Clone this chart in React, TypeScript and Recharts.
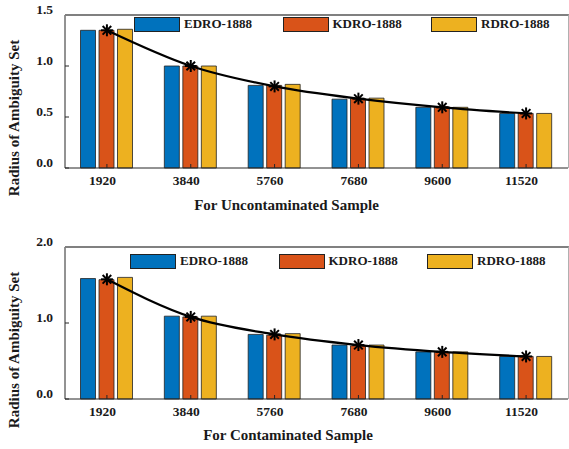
import React from 'react';
import { Bar, ComposedChart, Legend, Line, XAxis, YAxis } from 'recharts';

const samples = ['1920', '3840', '5760', '7680', '9600', '11520'];
const seriesNames = ['EDRO-1888', 'KDRO-1888', 'RDRO-1888'];
const seriesColors = ['#0072BD', '#D95319', '#EDB120'];

// uncontaminated sample
const edroClean = [1.35, 1.0, 0.81, 0.675, 0.595, 0.535];
const kdroClean = [1.35, 1.0, 0.81, 0.68, 0.6, 0.535];
const rdroClean = [1.36, 1.0, 0.82, 0.685, 0.595, 0.535];
const trendClean = [1.35, 1.0, 0.8, 0.68, 0.595, 0.535];
const cleanTicks = [0, 0.5, 1.0, 1.5];

// contaminated sample
const edroDirty = [1.585, 1.09, 0.85, 0.71, 0.62, 0.56];
const kdroDirty = [1.57, 1.08, 0.84, 0.7, 0.615, 0.56];
const rdroDirty = [1.6, 1.09, 0.86, 0.71, 0.62, 0.56];
const trendDirty = [1.575, 1.08, 0.85, 0.71, 0.62, 0.56];
const dirtyTicks = [0, 1.0, 2.0];

const FONT = "'Liberation Serif', 'Times New Roman', serif";
const INK = '#1a1a1a';

const buildRows = (e: number[], k: number[], r: number[], t: number[]) =>
  samples.map((n, i) => ({ n, e: e[i], k: k[i], r: r[i], t: t[i] }));

const Star = (props: any) => {
  const { cx, cy } = props;
  if (cx == null || cy == null) return null;
  const s = 6;
  const d = 4.3;
  return (
    <g stroke="#000" strokeWidth={2}>
      <line x1={cx - s} y1={cy} x2={cx + s} y2={cy} />
      <line x1={cx} y1={cy - s} x2={cx} y2={cy + s} />
      <line x1={cx - d} y1={cy - d} x2={cx + d} y2={cy + d} />
      <line x1={cx - d} y1={cy + d} x2={cx + d} y2={cy - d} />
    </g>
  );
};

const BottomTick = ({ x, y, payload }: any) => (
  <g>
    <line x1={x} x2={x} y1={y} y2={y - 4} stroke="#262626" />
    <text x={x - 4.5} y={y + 17} textAnchor="middle" fontFamily={FONT} fontWeight="bold" fontSize={13.5} fill={INK}>
      {payload.value}
    </text>
  </g>
);

const LeftTick = ({ x, y, payload }: any) => (
  <g>
    <line x1={x} x2={x + 4} y1={y} y2={y} stroke="#262626" />
    <text x={x - 12} y={y - 1} textAnchor="end" fontFamily={FONT} fontWeight="bold" fontSize={13.5} fill={INK}>
      {Number(payload.value).toFixed(1)}
    </text>
  </g>
);

const renderLegend = ({ payload }: any) => (
  <div style={{ display: 'flex', fontFamily: FONT, fontWeight: 'bold', fontSize: 13, color: INK }}>
    {(payload || [])
      .filter((p: any) => seriesNames.includes(p.value))
      .map((p: any) => (
        <div key={p.value} style={{ width: 148.5, flexShrink: 0, display: 'flex', alignItems: 'flex-start' }}>
          <span style={{ width: 44, height: 13, background: p.color, border: '1px solid #222', display: 'inline-block', flexShrink: 0 }} />
          <span style={{ marginLeft: 4, lineHeight: '13px' }}>{p.value}</span>
        </div>
      ))}
  </div>
);

type PanelProps = {
  rows: any[];
  ticks: number[];
  height: number;
  top: number;
  axisHeight: number;
  legendTop: number;
  legendLeft: number;
};

function Panel({ rows, ticks, height, top, axisHeight, legendTop, legendLeft }: PanelProps) {
  const lo = ticks[0];
  const hi = ticks[ticks.length - 1];
  return (
    <div style={{ position: 'relative', width: 569, height }}>
      <ComposedChart
        width={569}
        height={height}
        data={rows}
        margin={{ top, right: 1, bottom: 0, left: 0 }}
        barCategoryGap="18.5%"
        barGap={3.5}
      >
        <XAxis dataKey="n" height={axisHeight} tickSize={0} tickMargin={0} tick={<BottomTick />} stroke="#262626" interval={0} />
        <YAxis width={65} domain={[lo, hi]} ticks={ticks} tickSize={0} tickMargin={0} tick={<LeftTick />} stroke="#262626" type="number" />
        <Legend
          content={renderLegend}
          layout="horizontal"
          verticalAlign="middle"
          align="center"
          wrapperStyle={{ position: 'absolute', top: legendTop, left: legendLeft, width: 430, height: 15 }}
        />
        <Bar dataKey="e" name={seriesNames[0]} fill={seriesColors[0]} stroke="#222" strokeWidth={0.8} isAnimationActive={false} />
        <Bar dataKey="k" name={seriesNames[1]} fill={seriesColors[1]} stroke="#222" strokeWidth={0.8} isAnimationActive={false} />
        <Bar dataKey="r" name={seriesNames[2]} fill={seriesColors[2]} stroke="#222" strokeWidth={0.8} isAnimationActive={false} />
        <Line
          dataKey="t"
          type="monotone"
          stroke="#000"
          strokeWidth={2.2}
          dot={<Star />}
          activeDot={false}
          legendType="none"
          isAnimationActive={false}
        />
      </ComposedChart>
      {/* upper and right edges of the axes box */}
      <div
        style={{
          position: 'absolute',
          left: 65,
          top: top - 1,
          width: 504,
          height: height - top - axisHeight + 1,
          borderTop: '2px solid #808080',
          borderRight: '1px solid #b0b0b0',
          boxSizing: 'border-box',
          pointerEvents: 'none',
        }}
      />
    </div>
  );
}

const textBase: React.CSSProperties = {
  position: 'absolute',
  fontFamily: FONT,
  fontWeight: 'bold',
  fontSize: 15,
  color: INK,
  whiteSpace: 'nowrap',
  textAlign: 'center',
};

const YTitle = ({ cy }: { cy: number }) => (
  <div style={{ ...textBase, left: 14 - 100, top: cy - 9, width: 200, height: 18, lineHeight: '18px', transform: 'rotate(-90deg)' }}>
    Radius of Ambiguity Set
  </div>
);

const XTitle = ({ cx, baseline, children }: { cx: number; baseline: number; children: React.ReactNode }) => (
  <div style={{ ...textBase, left: cx - 150, top: baseline - 12.6, width: 300, height: 15, lineHeight: '15px' }}>{children}</div>
);

export default function App() {
  return (
    <div style={{ position: 'fixed', left: 0, top: 0, width: 569, height: 449, background: '#fff', overflow: 'hidden' }}>
      <div style={{ position: 'absolute', left: 0, top: 0 }}>
        <Panel
          rows={buildRows(edroClean, kdroClean, rdroClean, trendClean)}
          ticks={cleanTicks}
          height={220}
          top={15}
          axisHeight={52}
          legendTop={17}
          legendLeft={134}
        />
      </div>
      <div style={{ position: 'absolute', left: 0, top: 220 }}>
        <Panel
          rows={buildRows(edroDirty, kdroDirty, rdroDirty, trendDirty)}
          ticks={dirtyTicks}
          height={229}
          top={27}
          axisHeight={50}
          legendTop={34}
          legendLeft={130}
        />
      </div>
      <YTitle cy={118} />
      <YTitle cy={350} />
      <XTitle cx={286.5} baseline={211}>For Uncontaminated Sample</XTitle>
      <XTitle cx={288} baseline={441}>For Contaminated Sample</XTitle>
    </div>
  );
}
